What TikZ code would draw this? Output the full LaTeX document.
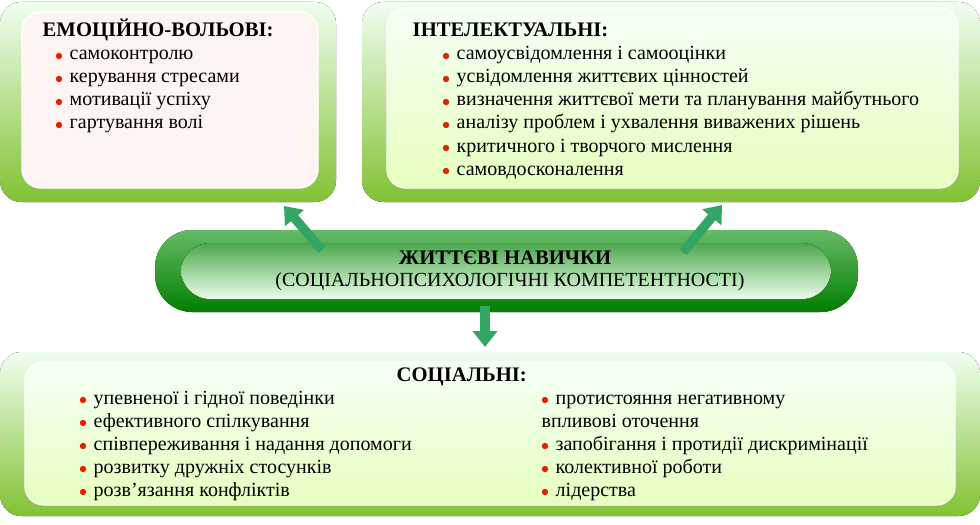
\documentclass[tikz,border=0pt]{standalone}
\usepackage{fontspec}
\usetikzlibrary{arrows.meta}
\setmainfont{Liberation Serif}
\begin{document}
\begin{tikzpicture}[x=0.75pt,y=-0.75pt,
 outer/.style={rounded corners=16pt,top color=green!6,bottom color=green!45!yellow!70!black!80,draw=none},
 innerp/.style={rounded corners=14pt,fill=pink!18,draw=white,line width=1pt},
 innerg/.style={rounded corners=14pt,top color=green!4,bottom color=green!40!yellow!25,draw=white,line width=1pt},
 ttl/.style={font=\fontsize{15.5}{17}\selectfont\bfseries,anchor=base west},
 itm/.style={font=\fontsize{15}{17}\selectfont,anchor=base west},
 arr/.style={-{Triangle[length=12pt,width=18pt]},line width=7pt,draw=teal!60!green!80!black!80}]
\useasboundingbox (0,0) rectangle (980,524);
\newcommand{\bul}[3]{\fill[red!70!orange!90!black] (#1,#2-4) circle (3.2);\node[itm] at (#1+6,#2) {#3};}
% boxes
\fill[outer] (0,2) rectangle (336,202);
\draw[innerp] (22,12) rectangle (318,188);
\fill[outer] (362,2) rectangle (980,202);
\draw[innerg] (387,8) rectangle (958,188);
\fill[outer] (0,352) rectangle (980,516);
\draw[innerg] (25,362) rectangle (955,505);
\fill[rounded corners=28pt,top color=green!55!black!60,bottom color=green!50!black,draw=none] (155,230) rectangle (858,312);
\fill[rounded corners=22pt,top color=green!50!black!70,bottom color=green!8] (181,243) rectangle (831,299);
\node[font=\fontsize{15.5}{17}\selectfont\bfseries] (ct) at (505,258) {ЖИТТЄВІ НАВИЧКИ};
\node[font=\fontsize{15}{17}\selectfont] (cs) at (510,282) {(СОЦІАЛЬНОПСИХОЛОГІЧНІ КОМПЕТЕНТНОСТІ)};
% arrows
\coordinate (a1) at (322,250); \coordinate (a1e) at (284,206);
\coordinate (a2) at (683,252); \coordinate (a2e) at (722,205);
\coordinate (a3) at (485,306); \coordinate (a3e) at (485,347);
\draw[arr] (a1)--(a1e); \draw[arr] (a2)--(a2e); \draw[arr] (a3)--(a3e);
% left
\node[ttl] at (38,37) {ЕМОЦІЙНО-ВОЛЬОВІ:};
\bul{59}{60}{самоконтролю}
\bul{59}{83}{керування стресами}
\bul{59}{106}{мотивації успіху}
\bul{59}{129}{гартування волі}
% right
\node[ttl] at (408,37) {ІНТЕЛЕКТУАЛЬНІ:};
\bul{446}{60}{самоусвідомлення і самооцінки}
\bul{446}{83}{усвідомлення життєвих цінностей}
\bul{446}{106}{визначення життєвої мети та планування майбутнього}
\bul{446}{129}{аналізу проблем і ухвалення виважених рішень}
\bul{446}{152}{критичного і творчого мислення}
\bul{446}{175}{самовдосконалення}
% bottom
\node[ttl] at (392,381) {СОЦІАЛЬНІ:};
\bul{83}{404}{упевненої і гідної поведінки}
\bul{83}{427}{ефективного спілкування}
\bul{83}{450}{співпереживання і надання допомоги}
\bul{83}{473}{розвитку дружніх стосунків}
\bul{83}{496}{розв’язання конфліктів}
\bul{545}{404}{протистояння негативному}
\node[itm] at (537,427) {впливові оточення};
\bul{545}{450}{запобігання і протидії дискримінації}
\bul{545}{473}{колективної роботи}
\bul{545}{496}{лідерства}
\end{tikzpicture}
\end{document}
